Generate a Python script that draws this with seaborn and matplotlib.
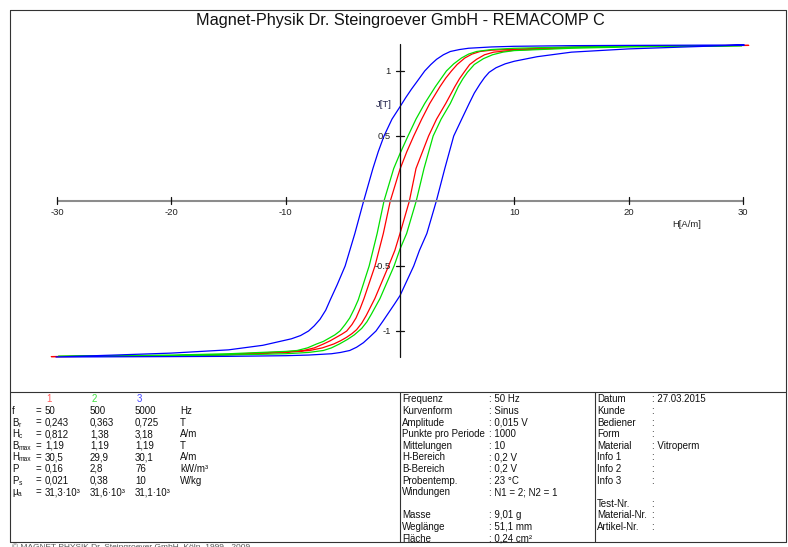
import pandas as pd
import matplotlib
matplotlib.use("Agg")
from matplotlib import pyplot as plt
import seaborn as sns

# hysteresis loops: H in A/m, J in T
# red loop (f = 50 Hz)
h_red_down = [-30.5, -20, -15, -10, -8.45, -7.5, -6.7, -6.1, -5.6, -5.1, -4.66, -4.2, -3.85, -3.5,
              -3.15, -2.19, -1.46, -0.85, 0, 0.6, 1.2, 1.9, 2.6, 3.5, 4.0, 4.5, 5.0, 5.67, 6.3,
              7.0, 8.0, 10, 15, 20, 30.5]
j_red_down = [-1.197, -1.19, -1.18, -1.16, -1.15, -1.13, -1.1, -1.075, -1.05, -1.025, -1.0, -0.95,
              -0.9, -0.83, -0.75, -0.5, -0.25, 0, 0.245, 0.38, 0.5, 0.63, 0.75, 0.88, 0.945, 1.0,
              1.05, 1.1, 1.13, 1.15, 1.16, 1.168, 1.182, 1.19, 1.197]
h_red_up = [-30.5, -20, -15, -10, -7.9, -6.8, -5.8, -5.2, -4.7, -4.2, -3.8, -3.35, -2.95, -2.2,
            -1.0, -0.45, 0, 0.82, 1.4, 2.5, 3.2, 4.0, 4.8, 5.2, 5.6, 6.1, 6.7, 7.4, 8.2, 10, 15,
            20, 30.5]
j_red_up = [-1.197, -1.19, -1.182, -1.165, -1.15, -1.13, -1.1, -1.075, -1.05, -1.02, -0.99, -0.94,
            -0.88, -0.75, -0.5, -0.38, -0.25, 0, 0.25, 0.5, 0.63, 0.75, 0.88, 0.94, 0.99, 1.05,
            1.09, 1.125, 1.145, 1.16, 1.18, 1.19, 1.197]

# green loop (f = 500 Hz)
h_green_down = [-29.9, -20, -15, -10, -9.0, -8.1, -7.3, -6.7, -6.2, -5.7, -5.25, -4.8, -4.4, -4.0,
                -3.65, -2.7, -2.0, -1.4, -0.55, 0, 0.7, 1.4, 2.16, 3.1, 4.06, 4.7, 5.38, 6.0, 6.7,
                8.0, 10, 15, 20, 29.9]
j_green_down = [-1.195, -1.185, -1.175, -1.157, -1.15, -1.13, -1.1, -1.08, -1.055, -1.03, -1.0,
                -0.95, -0.9, -0.83, -0.76, -0.5, -0.25, 0, 0.25, 0.365, 0.5, 0.63, 0.75, 0.88, 1.0,
                1.055, 1.1, 1.13, 1.15, 1.165, 1.175, 1.185, 1.19, 1.195]
h_green_up = [-29.9, -20, -15, -10, -8.0, -6.7, -6.0, -5.3, -4.6, -4.0, -3.35, -2.9, -2.5, -1.75,
              -0.52, 0, 0.58, 1.42, 2.1, 2.9, 3.6, 4.4, 5.1, 5.5, 5.9, 6.5, 7.3, 8.1, 9.0, 10, 15,
              20, 29.9]
j_green_up = [-1.195, -1.19, -1.185, -1.175, -1.165, -1.15, -1.13, -1.1, -1.065, -1.03, -0.98,
              -0.93, -0.87, -0.75, -0.5, -0.37, -0.25, 0, 0.25, 0.5, 0.63, 0.75, 0.88, 0.94, 0.99,
              1.05, 1.095, 1.125, 1.145, 1.157, 1.175, 1.185, 1.195]

# blue loop (f = 5000 Hz)
h_blue_down = [-30.1, -25, -20, -15, -12, -10.5, -9.5, -8.7, -8, -7.5, -7, -6.5, -6.1, -5.5, -4.8,
               -3.95, -3.18, -2.37, -1.9, -1.4, -0.7, 0, 0.5, 1, 1.5, 2.16, 2.7, 3.2, 3.8, 4.4,
               5.2, 6, 8, 10, 15, 20, 30.1]
j_blue_down = [-1.2, -1.185, -1.17, -1.145, -1.11, -1.08, -1.06, -1.035, -1.0, -0.96, -0.91, -0.84,
               -0.76, -0.645, -0.5, -0.25, 0, 0.25, 0.38, 0.5, 0.63, 0.725, 0.795, 0.86, 0.92, 1.0,
               1.05, 1.09, 1.125, 1.15, 1.165, 1.175, 1.185, 1.19, 1.195, 1.197, 1.2]
h_blue_up = [-30.1, -20, -15, -10, -8, -6, -5.2, -4.4, -3.8, -3.2, -2.7, -2.1, -1.5, -1.0, -0.5,
             0, 1.2, 1.7, 2.35, 3.18, 3.92, 4.7, 5.4, 6.05, 6.5, 7.0, 7.4, 7.8, 8.4, 9.2, 10, 12,
             15, 20, 25, 30.1]
j_blue_up = [-1.2, -1.197, -1.195, -1.19, -1.185, -1.175, -1.165, -1.15, -1.125, -1.09, -1.05,
             -1.0, -0.925, -0.86, -0.795, -0.728, -0.5, -0.38, -0.25, 0, 0.25, 0.5, 0.63, 0.75,
             0.83, 0.9, 0.95, 0.99, 1.025, 1.055, 1.075, 1.11, 1.145, 1.17, 1.185, 1.2]

x_ticks = [-30, -20, -10, 10, 20, 30]
y_ticks = [1, 0.5, -0.5, -1]

# measurement table
loop_names = ["1", "2", "3"]
loop_colors = ["#ff0000", "#00e000", "#0000ff"]
head_colors = ["#ff5a5a", "#3ee03e", "#4646ff"]
f_vals = [50, 500, 5000]
br_vals = [0.243, 0.363, 0.725]
hc_vals = [0.812, 1.38, 3.18]
bmax_vals = [1.19, 1.19, 1.19]
hmax_vals = [30.5, 29.9, 30.1]
p_vals = [0.16, 2.8, 76]
ps_vals = [0.021, 0.38, 10]
mu_vals = [31.3, 31.6, 31.1]  # x 10^3
row_letters = ["f", "B", "H", "B", "H", "P", "P", "μ"]
row_subs = ["", "r", "c", "max", "max", "", "s", "a"]
row_units = ["Hz", "T", "A/m", "T", "A/m", "kW/m³", "W/kg", ""]

settings_labels = ["Frequenz", "Kurvenform", "Amplitude", "Punkte pro Periode", "Mittelungen",
                   "H-Bereich", "B-Bereich", "Probentemp.", "Windungen", "",
                   "Masse", "Weglänge", "Fläche"]
settings_values = ["50 Hz", "Sinus", "0,015 V", "1000", "10", "0,2 V", "0,2 V", "23 °C",
                   "N1 = 2; N2 = 1", None, "9,01 g", "51,1 mm", "0,24 cm²"]
info_labels = ["Datum", "Kunde", "Bediener", "Form", "Material", "Info 1", "Info 2", "Info 3", "",
               "Test-Nr.", "Material-Nr.", "Artikel-Nr."]
info_values = ["27.03.2015", "", "", "", "Vitroperm", "", "", "", None, "", "", ""]

sns.set_style("white")
plt.rcParams["font.family"] = ["Liberation Sans", "DejaVu Sans"]

W, H = 788, 547
PX_X, PX_Y = 11.43, 130.0   # pixels per A/m and per T
X0, Y0 = 400, 201           # pixel position of the origin

fig = plt.figure(figsize=(W / 100, H / 100), dpi=100)
bg = fig.add_axes([0, 0, 1, 1])
bg.set_xlim(0, W)
bg.set_ylim(H, 0)
bg.axis("off")

ax = fig.add_axes([0, 0, 1, 1])
ax.patch.set_alpha(0)

# loops
loops = [(h_red_down, j_red_down, h_red_up, j_red_up),
         (h_green_down, j_green_down, h_green_up, j_green_up),
         (h_blue_down, j_blue_down, h_blue_up, j_blue_up)]
for (hd, jd, hu, ju), col in zip(loops, loop_colors):
    df = pd.DataFrame({"H": list(reversed(hd)) + hu, "J": list(reversed(jd)) + ju})
    sns.lineplot(data=df, x="H", y="J", sort=False, estimator=None, color=col,
                 lw=0.9, ax=ax, legend=False)
ax.set_xlim(-X0 / PX_X, (W - X0) / PX_X)
ax.set_ylim((Y0 - H) / PX_Y, Y0 / PX_Y)
ax.axis("off")

# axis cross
ax.plot([-30, 30], [0, 0], color="#8c8c8c", lw=1.5, zorder=5, solid_capstyle="butt")
ax.plot([0, 0], [1.21, -1.2], color="#111111", lw=0.9, zorder=6)
for t in x_ticks:
    ax.plot([t, t], [0.032, -0.025], color="#111111", lw=0.9, zorder=6)
    ax.text(t, -0.092, str(t), ha="center", va="center", fontsize=6.8, color="#222222")
for t in y_ticks:
    ax.plot([-0.33, 0.33], [t, t], color="#111111", lw=0.9, zorder=6)
    ax.text(-0.8, t, f"{t:g}", ha="right", va="center", fontsize=6.8, color="#222222")
ax.text(-0.75, 0.742, "J[T]", ha="right", va="center", fontsize=6.8, color="#22224a")
ax.text(23.8, -0.177, "H[A/m]", ha="left", va="center", fontsize=6.8, color="#222222")

# frame and title
fc, flw = "#333333", 0.8
bg.plot([10.5, 786, 786, 10.5, 10.5], [9.5, 9.5, 542, 542, 9.5], color=fc, lw=flw)
bg.plot([10.5, 786], [391.7, 391.7], color=fc, lw=flw)
bg.plot([400, 400], [391.7, 542], color=fc, lw=flw)
bg.plot([595, 595], [391.7, 542], color=fc, lw=flw)
bg.text(400, 20, "Magnet-Physik Dr. Steingroever GmbH - REMACOMP C", ha="center", va="center",
        fontsize=11.7, color="#111111")

fs = 7
row_y = [399.3 + 11.6 * i for i in range(13)]
letter_w = {"f": 3.5, "B": 6.5, "H": 7.0, "P": 6.5, "μ": 5.6}


def num(v):
    return f"{v:g}".replace(".", ",")


# measured values
val_x = [45, 90, 135]
for name, col, x in zip(loop_names, head_colors, val_x):
    bg.text(x + 1.5, row_y[0], name, ha="left", va="center", fontsize=fs, color=col)
columns = [f_vals, br_vals, hc_vals, bmax_vals, hmax_vals, p_vals, ps_vals]
for i, (let, sub) in enumerate(zip(row_letters, row_subs)):
    y = row_y[i + 1]
    bg.text(12, y, let, ha="left", va="center", fontsize=fs, color="#111111")
    if sub:
        bg.text(12 + letter_w[let], y + 2.6, sub, ha="left", va="center", fontsize=4.8,
                color="#111111")
    bg.text(35.5, y, "=", ha="left", va="center", fontsize=fs, color="#111111")
    for k, x in enumerate(val_x):
        if i < len(columns):
            s = num(columns[i][k])
        else:
            s = num(mu_vals[k]) + "·10³"
        bg.text(x, y, s, ha="left", va="center", fontsize=fs, color="#111111")
    bg.text(180, y, row_units[i], ha="left", va="center", fontsize=fs, color="#111111")

# settings
for i, (lab, val) in enumerate(zip(settings_labels, settings_values)):
    if val is None:
        continue
    bg.text(402, row_y[i], lab, ha="left", va="center", fontsize=fs, color="#111111")
    bg.text(489, row_y[i], ": " + val, ha="left", va="center", fontsize=fs, color="#111111")

for i, (lab, val) in enumerate(zip(info_labels, info_values)):
    if val is None:
        continue
    bg.text(597, row_y[i], lab, ha="left", va="center", fontsize=fs, color="#111111")
    bg.text(652, row_y[i], ": " + val, ha="left", va="center", fontsize=fs, color="#111111")

bg.text(12, 547.5, "© MAGNET-PHYSIK Dr. Steingroever GmbH, Köln  1999 - 2009", ha="left",
        va="center", fontsize=6, color="#555555", clip_on=False)

fig.savefig("out.png", dpi=100)
